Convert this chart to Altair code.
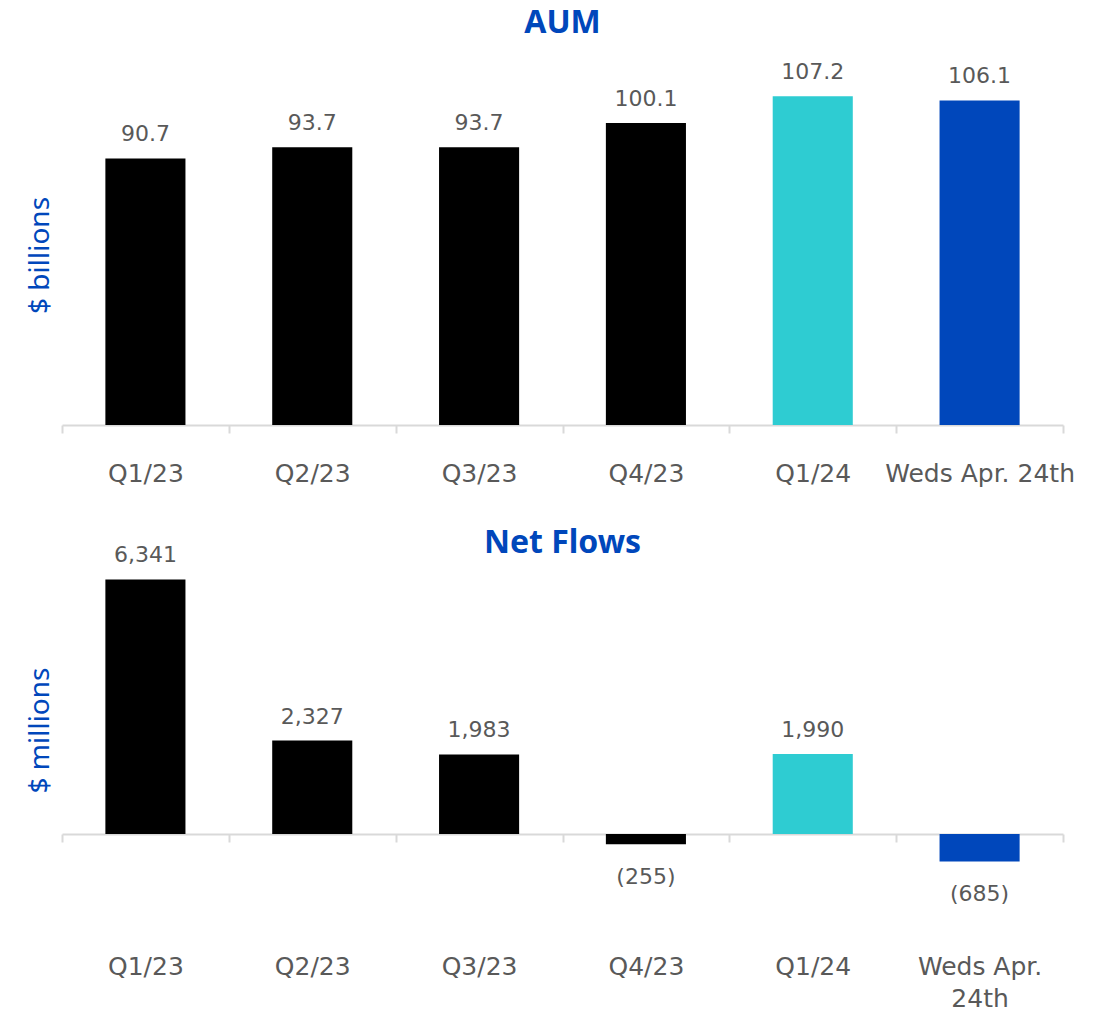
import altair as alt
import pandas as pd

# Reporting periods and the two series shown per period
periods = ["Q1/23", "Q2/23", "Q3/23", "Q4/23", "Q1/24", "Weds Apr. 24th"]
aum_billions = [90.7, 93.7, 93.7, 100.1, 107.2, 106.1]
net_flows_millions = [6341, 2327, 1983, -255, 1990, -685]
bar_colors = ["#000000", "#000000", "#000000", "#000000", "#2ECCD2", "#0047BB"]

TITLE_BLUE = "#0047BB"
TEXT_GREY = "#595959"
AXIS_GREY = "#D9D9D9"
LABEL_FONT = "DejaVu Sans"
TITLE_FONT = "Noto Sans"

aum_df = pd.DataFrame({"period": periods, "value": aum_billions})
flow_df = pd.DataFrame({"period": periods, "value": net_flows_millions})

color = alt.Color(
    "period:N", scale=alt.Scale(domain=periods, range=bar_colors), legend=None
)


def x_axis(label_padding, label_expr=None):
    kwargs = dict(
        title=None,
        labelAngle=0,
        tickBand="extent",
        tickSize=8,
        tickWidth=2,
        tickColor=AXIS_GREY,
        domainColor=AXIS_GREY,
        domainWidth=2,
        grid=False,
        labelFont=LABEL_FONT,
        labelFontSize=25,
        labelColor=TEXT_GREY,
        labelPadding=label_padding,
        labelLimit=400,
        labelOverlap=False,
        labelLineHeight=32,
    )
    if label_expr:
        kwargs["labelExpr"] = label_expr
    return alt.X(
        "period:N",
        sort=periods,
        scale=alt.Scale(paddingInner=0, paddingOuter=0),
        axis=alt.Axis(**kwargs),
    )


def y_axis_title(text, title_y):
    return alt.Axis(
        title=text,
        labels=False,
        ticks=False,
        domain=False,
        grid=False,
        titleFont=TITLE_FONT,
        titleFontSize=28,
        titleFontWeight="normal",
        titleColor=TITLE_BLUE,
        titleX=-22,
        titleY=title_y,
        titleBaseline="middle",
        titleAngle=270,
    )


def chart_title(text, offset):
    return alt.TitleParams(
        text,
        font=TITLE_FONT,
        fontSize=32,
        fontWeight="bold",
        color=TITLE_BLUE,
        anchor="middle",
        offset=offset,
    )


# AUM panel: axis starts at 20
aum_y = alt.Y(
    "value:Q",
    scale=alt.Scale(domain=[20, 120], nice=False, zero=False),
    axis=y_axis_title("$ billions", 207),
)
aum_base = alt.Chart(aum_df).encode(x=x_axis(28))
aum_bars = aum_base.mark_bar(width=alt.RelativeBandSize(0.48)).encode(
    y=aum_y, y2=alt.datum(20), color=color
)
aum_text = (
    aum_base.transform_calculate(label="format(datum.value, '.1f')")
    .mark_text(font=LABEL_FONT, fontSize=22, color=TEXT_GREY, baseline="alphabetic", dy=-17)
    .encode(y=alt.Y("value:Q"), text="label:N")
)
aum_chart = alt.layer(aum_bars, aum_text).properties(
    width=1001, height=377, title=chart_title("AUM", 8)
)

# Net flows panel: negative bars hang below the category axis
flow_y = alt.Y(
    "value:Q",
    scale=alt.Scale(domain=[0, 7000], nice=False),
    axis=y_axis_title("$ millions", 177),
)
flow_base = alt.Chart(flow_df).encode(
    x=x_axis(
        112,
        "indexof(datum.label, ' ') >= 0 ? "
        "[substring(datum.label, 0, lastindexof(datum.label, ' ')), "
        "substring(datum.label, lastindexof(datum.label, ' ') + 1)] : datum.label",
    )
)
flow_bars = flow_base.mark_bar(width=alt.RelativeBandSize(0.48)).encode(
    y=flow_y, color=color
)
flow_label = (
    "datum.value < 0 ? '(' + format(-datum.value, ',') + ')' : format(datum.value, ',')"
)
flow_text_pos = (
    flow_base.transform_filter("datum.value >= 0")
    .transform_calculate(label=flow_label)
    .mark_text(font=LABEL_FONT, fontSize=22, color=TEXT_GREY, baseline="alphabetic", dy=-17)
    .encode(y=alt.Y("value:Q"), text="label:N")
)
flow_text_neg = (
    flow_base.transform_filter("datum.value < 0")
    .transform_calculate(label=flow_label)
    .mark_text(font=LABEL_FONT, fontSize=22, color=TEXT_GREY, baseline="alphabetic", dy=40)
    .encode(y=alt.Y("value:Q"), text="label:N")
)
flow_chart = alt.layer(flow_bars, flow_text_pos, flow_text_neg).properties(
    width=1001, height=281, title=chart_title("Net Flows", -16)
)

chart = (
    alt.vconcat(aum_chart, flow_chart, spacing=128, bounds="flush")
    .properties(
        padding={"left": 26, "top": 7, "right": 5, "bottom": 0},
        background="white",
    )
    .configure_view(strokeWidth=0, stroke="transparent")
)

chart.save("out.html", embed_options={"renderer": "svg", "actions": False})
